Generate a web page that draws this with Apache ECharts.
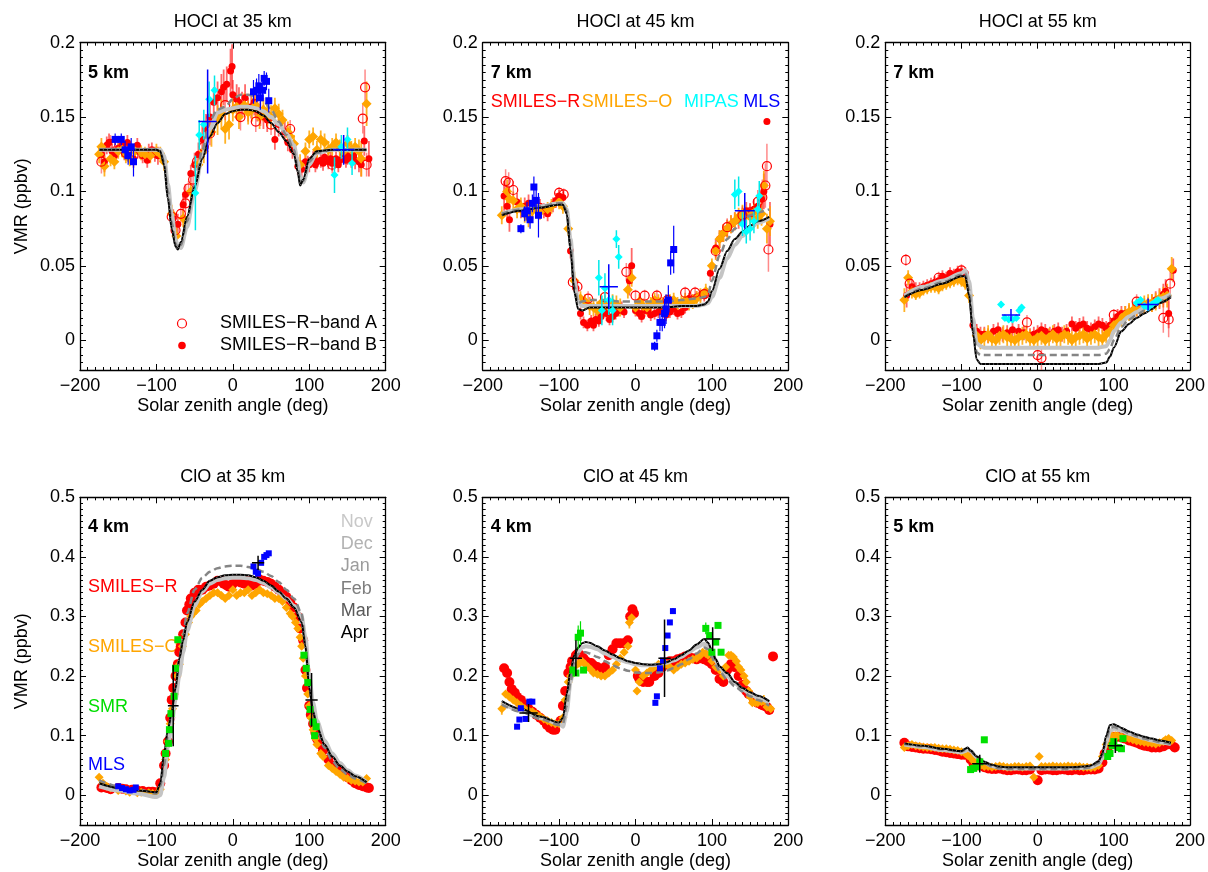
<!DOCTYPE html>
<html>
<head>
<meta charset="utf-8">
<title>HOCl / ClO diurnal variation</title>
<script src="https://cdn.jsdelivr.net/npm/echarts@6/dist/echarts.min.js"></script>
<style>
html, body { margin: 0; padding: 0; background: #fff; }
#main { width: 1208px; height: 872px; }
</style>
</head>
<body>
<div id="main"></div>
<script>
// ---------- HOCl 35 km ----------
var h35_sza = [-175,-150,-125,-100,-95,-90,-85,-80,-75,-72,-68,-60,-50,-40,-30,-20,-10,0,10,20,30,40,50,60,70,80,85,88,92,100,110,130,150,175];
var h35_nov = [0.128,0.128,0.128,0.128,0.128,0.124,0.105,0.085,0.068,0.063,0.062,0.076,0.100,0.124,0.142,0.153,0.155,0.156,0.157,0.157,0.156,0.154,0.150,0.145,0.139,0.131,0.120,0.110,0.106,0.118,0.126,0.128,0.128,0.128];
var h35_feb = [0.128,0.128,0.128,0.128,0.127,0.120,0.100,0.079,0.065,0.062,0.064,0.080,0.104,0.128,0.148,0.155,0.157,0.162,0.165,0.165,0.164,0.161,0.155,0.147,0.138,0.128,0.116,0.107,0.107,0.120,0.126,0.128,0.128,0.128];
var h35_apr = [0.128,0.128,0.128,0.128,0.127,0.118,0.095,0.075,0.063,0.061,0.066,0.083,0.103,0.122,0.137,0.146,0.152,0.154,0.155,0.155,0.154,0.151,0.146,0.140,0.134,0.125,0.113,0.104,0.108,0.122,0.127,0.128,0.128,0.128];
var h35_bandB = [[-172,0.125,0.008],[-168,0.120,0.007],[-165,0.131,0.006],[-162,0.133,0.006],[-158,0.127,0.005],[-155,0.124,0.006],[-150,0.129,0.006],[-145,0.131,0.005],[-142,0.126,0.005],[-138,0.133,0.005],[-135,0.128,0.006],[-130,0.122,0.006],[-125,0.131,0.005],[-122,0.127,0.005],[-118,0.124,0.005],[-112,0.121,0.005],[-110,0.126,0.006],[-106,0.128,0.005],[-102,0.125,0.005],[-98,0.124,0.006],[-78,0.082,0.006],[-72,0.078,0.007],[-65,0.091,0.006],[-62,0.098,0.007],[-55,0.112,0.006],[-50,0.118,0.008],[-45,0.125,0.008],[-40,0.135,0.009],[-35,0.142,0.010],[-30,0.150,0.010],[-25,0.160,0.010],[-20,0.163,0.011],[-15,0.167,0.012],[-12,0.170,0.012],[-8,0.172,0.012],[-3,0.181,0.015],[-1,0.184,0.015],[0,0.165,0.010],[5,0.162,0.010],[8,0.160,0.010],[12,0.158,0.009],[16,0.163,0.009],[20,0.155,0.008],[24,0.157,0.008],[28,0.160,0.009],[32,0.155,0.008],[36,0.152,0.008],[40,0.150,0.008],[45,0.148,0.008],[55,0.135,0.007],[60,0.145,0.008],[68,0.140,0.007],[72,0.133,0.006],[78,0.128,0.006],[85,0.117,0.006],[90,0.115,0.006],[95,0.120,0.005],[98,0.119,0.005],[100,0.118,0.005],[105,0.122,0.005],[108,0.118,0.005],[110,0.120,0.005],[115,0.121,0.005],[118,0.119,0.005],[120,0.123,0.005],[125,0.120,0.005],[128,0.122,0.005],[130,0.119,0.005],[135,0.122,0.005],[138,0.118,0.005],[140,0.121,0.005],[145,0.125,0.006],[148,0.121,0.005],[150,0.124,0.006],[155,0.122,0.006],[158,0.124,0.006],[160,0.121,0.006],[165,0.120,0.007],[168,0.118,0.008],[172,0.134,0.010],[178,0.122,0.012]];
var h35_bandA = [[-172,0.120,0.008],[-160,0.132,0.006],[-140,0.126,0.005],[-130,0.124,0.005],[-80,0.083,0.005],[-75,0.074,0.006],[-68,0.085,0.006],[-62,0.092,0.006],[-58,0.102,0.005],[-52,0.108,0.006],[-47,0.120,0.006],[-38,0.130,0.007],[-30,0.139,0.008],[-10,0.158,0.010],[10,0.150,0.009],[30,0.147,0.007],[50,0.145,0.007],[75,0.142,0.006],[130,0.118,0.006],[170,0.149,0.010],[173,0.170,0.012],[175,0.118,0.008]];
var h35_smo = [[-175,0.125,0.006],[-172,0.130,0.006],[-168,0.117,0.007],[-160,0.122,0.005],[-155,0.120,0.005],[-150,0.127,0.005],[-145,0.128,0.005],[-140,0.124,0.005],[-135,0.122,0.005],[-128,0.127,0.005],[-120,0.126,0.005],[-115,0.125,0.005],[-108,0.124,0.005],[-100,0.127,0.005],[-95,0.125,0.005],[-90,0.120,0.006],[-80,0.085,0.006],[-74,0.070,0.006],[-65,0.082,0.006],[-55,0.100,0.006],[-45,0.118,0.008],[-38,0.127,0.008],[-28,0.140,0.010],[-20,0.148,0.010],[-15,0.152,0.010],[-10,0.142,0.010],[-5,0.145,0.010],[0,0.155,0.008],[5,0.157,0.008],[8,0.150,0.008],[15,0.158,0.008],[20,0.153,0.008],[25,0.155,0.008],[30,0.158,0.008],[35,0.150,0.008],[40,0.155,0.008],[45,0.152,0.008],[50,0.150,0.008],[55,0.156,0.007],[60,0.152,0.007],[65,0.148,0.007],[72,0.140,0.007],[75,0.137,0.007],[80,0.132,0.006],[88,0.118,0.007],[95,0.127,0.006],[100,0.135,0.006],[105,0.137,0.006],[110,0.128,0.006],[115,0.135,0.006],[120,0.133,0.006],[125,0.128,0.006],[130,0.130,0.006],[135,0.133,0.006],[140,0.129,0.006],[145,0.127,0.006],[150,0.132,0.006],[155,0.128,0.006],[160,0.130,0.006],[165,0.127,0.008],[168,0.122,0.012],[175,0.159,0.015]];
var h35_mipas = [[-49,0.099,0.025],[-44,0.138,0.010],[-38,0.145,0.010],[-31,0.162,0.012],[-24,0.168,0.010],[133,0.111,0.012],[142,0.130,0.008],[150,0.135,0.008],[156,0.119,0.008]];
var h35_mls = [[-154,0.135,0.004],[-146,0.135,0.004],[-141,0.128,0.006],[-137,0.124,0.006],[-133,0.130,0.006],[-130,0.120,0.010],[27,0.167,0.008],[31,0.168,0.008],[34,0.171,0.008],[36,0.163,0.008],[39,0.168,0.006],[41,0.176,0.005],[44,0.174,0.006],[47,0.161,0.008]];
var h35_avg = [[-33,0.147,12,0.035],[145,0.128,14,0.010]];

// ---------- HOCl 45 km ----------
var h45_sza = [-175,-150,-125,-100,-95,-90,-85,-80,-75,-70,-60,-40,-20,0,20,40,60,80,90,95,100,110,120,130,140,150,160,175];
var h45_nov = [0.085,0.088,0.090,0.092,0.092,0.088,0.068,0.040,0.026,0.023,0.023,0.023,0.023,0.023,0.023,0.023,0.023,0.023,0.024,0.025,0.029,0.042,0.055,0.064,0.070,0.075,0.079,0.082];
var h45_feb = [0.085,0.088,0.090,0.092,0.092,0.087,0.064,0.036,0.025,0.026,0.027,0.027,0.026,0.026,0.026,0.026,0.027,0.028,0.029,0.031,0.040,0.057,0.068,0.075,0.080,0.084,0.086,0.088];
var h45_apr = [0.084,0.087,0.089,0.091,0.091,0.085,0.060,0.032,0.021,0.020,0.022,0.022,0.022,0.022,0.022,0.022,0.023,0.023,0.024,0.026,0.033,0.048,0.060,0.068,0.073,0.077,0.080,0.083];
var h45_bandB = [[-172,0.097,0.010],[-168,0.090,0.008],[-165,0.081,0.008],[-155,0.093,0.006],[-150,0.088,0.006],[-145,0.090,0.006],[-140,0.092,0.006],[-135,0.088,0.006],[-125,0.090,0.005],[-120,0.087,0.005],[-115,0.085,0.005],[-108,0.091,0.005],[-104,0.094,0.005],[-100,0.097,0.004],[-95,0.096,0.004],[-85,0.060,0.005],[-78,0.035,0.005],[-72,0.018,0.004],[-68,0.012,0.004],[-63,0.010,0.004],[-58,0.013,0.004],[-55,0.010,0.004],[-52,0.014,0.004],[-48,0.013,0.004],[-45,0.016,0.005],[-42,0.020,0.004],[-38,0.018,0.005],[-34,0.014,0.004],[-30,0.016,0.004],[-26,0.018,0.004],[-22,0.020,0.004],[-18,0.022,0.004],[-15,0.019,0.004],[-8,0.040,0.010],[-5,0.050,0.012],[0,0.020,0.004],[5,0.018,0.004],[8,0.016,0.004],[12,0.020,0.004],[16,0.020,0.004],[20,0.017,0.004],[25,0.018,0.004],[30,0.019,0.004],[35,0.020,0.004],[40,0.017,0.004],[45,0.019,0.004],[50,0.021,0.004],[55,0.018,0.004],[60,0.019,0.004],[65,0.022,0.004],[70,0.028,0.004],[75,0.027,0.004],[80,0.029,0.004],[85,0.030,0.004],[90,0.030,0.004],[98,0.045,0.005],[105,0.062,0.006],[110,0.068,0.006],[115,0.072,0.006],[120,0.075,0.006],[125,0.078,0.006],[130,0.080,0.006],[135,0.081,0.006],[140,0.083,0.006],[145,0.087,0.006],[150,0.086,0.006],[155,0.088,0.007],[160,0.090,0.008],[165,0.095,0.010],[168,0.100,0.012],[172,0.147,0],[176,0.078,0.015]];
var h45_bandA = [[-170,0.107,0.008],[-166,0.106,0.007],[-160,0.101,0.006],[-100,0.099,0.004],[-94,0.098,0.004],[-82,0.039,0.005],[-76,0.036,0.005],[-62,0.028,0.005],[-40,0.029,0.004],[-12,0.046,0.006],[0,0.030,0.004],[12,0.030,0.004],[28,0.030,0.004],[42,0.027,0.004],[65,0.032,0.004],[78,0.032,0.004],[90,0.031,0.004],[105,0.060,0.005],[120,0.076,0.006],[140,0.084,0.006],[150,0.086,0.006],[160,0.093,0.008],[166,0.096,0.012],[170,0.104,0.015],[172,0.117,0.015],[174,0.061,0.015]];
var h45_smo = [[-175,0.084,0.006],[-168,0.100,0.008],[-165,0.095,0.007],[-160,0.094,0.006],[-155,0.088,0.006],[-150,0.090,0.006],[-145,0.085,0.006],[-140,0.082,0.006],[-135,0.087,0.006],[-130,0.090,0.005],[-125,0.086,0.005],[-115,0.088,0.005],[-110,0.090,0.005],[-100,0.093,0.005],[-95,0.090,0.005],[-88,0.075,0.005],[-80,0.040,0.006],[-72,0.028,0.005],[-66,0.026,0.005],[-60,0.023,0.006],[-55,0.022,0.006],[-50,0.020,0.006],[-45,0.025,0.006],[-40,0.024,0.006],[-35,0.023,0.006],[-30,0.025,0.006],[-25,0.024,0.006],[-20,0.022,0.006],[-10,0.034,0.006],[-5,0.042,0.006],[0,0.022,0.005],[5,0.026,0.005],[10,0.023,0.005],[15,0.022,0.005],[20,0.024,0.005],[25,0.027,0.005],[30,0.026,0.005],[35,0.024,0.005],[40,0.025,0.005],[45,0.026,0.005],[50,0.027,0.005],[55,0.024,0.005],[60,0.025,0.005],[65,0.027,0.005],[70,0.025,0.005],[75,0.026,0.005],[80,0.028,0.005],[85,0.030,0.005],[92,0.033,0.005],[100,0.050,0.005],[105,0.060,0.006],[110,0.068,0.006],[115,0.072,0.006],[120,0.075,0.006],[125,0.078,0.006],[130,0.080,0.006],[135,0.083,0.006],[140,0.085,0.006],[145,0.084,0.006],[150,0.083,0.006],[155,0.086,0.006],[160,0.082,0.007],[165,0.085,0.008],[168,0.104,0.010],[172,0.075,0.010],[176,0.080,0.010]];
var h45_mipas = [[-48,0.042,0.012],[-44,0.020,0.010],[-40,0.035,0.010],[-35,0.027,0.010],[-30,0.020,0.010],[-25,0.068,0.006],[-22,0.056,0.008],[130,0.098,0.010],[135,0.100,0.010],[140,0.078,0.008],[145,0.073,0.008],[150,0.075,0.008],[155,0.080,0.008],[160,0.088,0.008],[162,0.097,0.010]];
var h45_mls = [[-150,0.075,0.003],[-145,0.085,0.005],[-142,0.087,0.006],[-138,0.081,0.006],[-135,0.092,0.006],[-133,0.103,0.007],[-130,0.094,0.008],[-127,0.084,0.015],[25,-0.004,0.003],[28,0.003,0.004],[32,0.012,0.006],[35,0.012,0.006],[38,0.018,0.010],[40,0.021,0.010],[43,0.027,0.010],[46,0.052,0.008],[50,0.061,0.016]];
var h45_avg = [[-35,0.036,12,0.015],[143,0.087,13,0.012]];

// ---------- HOCl 55 km ----------
var h55_sza = [-175,-150,-125,-100,-95,-90,-85,-80,-75,-70,-40,0,40,80,90,95,100,110,120,130,140,150,160,175];
var h55_nov = [0.030,0.036,0.040,0.045,0.047,0.040,0.015,-0.002,-0.004,-0.005,-0.005,-0.005,-0.005,-0.005,-0.004,0.000,0.006,0.012,0.016,0.019,0.022,0.025,0.028,0.031];
var h55_feb = [0.029,0.035,0.039,0.044,0.045,0.034,0.009,-0.008,-0.010,-0.010,-0.010,-0.010,-0.010,-0.010,-0.009,-0.006,0.000,0.009,0.014,0.017,0.020,0.023,0.026,0.030];
var h55_apr = [0.029,0.034,0.038,0.043,0.043,0.030,0.005,-0.013,-0.016,-0.016,-0.016,-0.016,-0.016,-0.016,-0.015,-0.011,-0.005,0.006,0.011,0.015,0.018,0.021,0.025,0.029];
var h55_bandB = [[-172,0.030,0.008],[-165,0.036,0.005],[-160,0.034,0.005],[-155,0.035,0.004],[-150,0.036,0.004],[-145,0.037,0.004],[-140,0.038,0.004],[-135,0.039,0.004],[-130,0.040,0.004],[-125,0.043,0.004],[-120,0.042,0.004],[-115,0.045,0.004],[-110,0.044,0.004],[-105,0.046,0.004],[-100,0.046,0.004],[-95,0.045,0.004],[-85,0.010,0.005],[-80,0.006,0.005],[-75,0.004,0.005],[-70,0.004,0.005],[-65,0.003,0.005],[-58,0.006,0.005],[-52,0.007,0.005],[-46,0.004,0.005],[-40,0.005,0.005],[-33,0.007,0.005],[-25,0.006,0.005],[-18,0.005,0.005],[-10,0.003,0.005],[-5,0.004,0.005],[0,0.005,0.005],[5,0.007,0.005],[10,0.006,0.005],[16,0.004,0.005],[22,0.006,0.005],[27,0.007,0.005],[32,0.004,0.005],[38,0.006,0.005],[45,0.011,0.005],[50,0.008,0.005],[55,0.010,0.005],[60,0.011,0.005],[65,0.008,0.005],[70,0.007,0.005],[75,0.009,0.005],[80,0.011,0.005],[85,0.010,0.005],[90,0.008,0.005],[95,0.010,0.005],[100,0.013,0.005],[105,0.016,0.005],[110,0.018,0.005],[115,0.018,0.005],[120,0.019,0.005],[125,0.020,0.005],[130,0.021,0.005],[135,0.022,0.005],[140,0.023,0.005],[145,0.024,0.005],[150,0.025,0.006],[155,0.027,0.006],[160,0.028,0.007],[165,0.031,0.007],[168,0.033,0.008],[172,0.018,0.010],[178,0.047,0.008]];
var h55_bandA = [[-173,0.054,0.004],[-168,0.038,0.005],[-130,0.042,0.004],[-100,0.047,0.004],[-14,0.012,0.005],[0,-0.010,0.004],[5,-0.012,0.008],[100,0.017,0.004],[130,0.026,0.005],[165,0.015,0.010],[172,0.014,0.012],[174,0.038,0.010]];
var h55_smo = [[-175,0.027,0.008],[-170,0.042,0.005],[-165,0.033,0.005],[-160,0.031,0.004],[-155,0.032,0.004],[-150,0.034,0.004],[-145,0.035,0.004],[-140,0.036,0.004],[-135,0.036,0.004],[-130,0.035,0.004],[-125,0.037,0.004],[-120,0.038,0.004],[-115,0.039,0.004],[-110,0.040,0.004],[-105,0.041,0.004],[-100,0.040,0.004],[-95,0.038,0.004],[-90,0.030,0.005],[-80,0.003,0.006],[-75,0.000,0.006],[-70,0.002,0.006],[-65,0.004,0.006],[-60,0.001,0.006],[-55,0.000,0.006],[-50,0.003,0.006],[-45,0.004,0.006],[-40,0.002,0.006],[-35,0.001,0.006],[-30,0.000,0.006],[-25,0.002,0.006],[-20,0.003,0.006],[-15,0.004,0.006],[-10,0.001,0.006],[-5,0.000,0.006],[0,0.002,0.006],[5,0.003,0.006],[10,0.000,0.006],[15,0.002,0.006],[20,0.004,0.006],[25,0.001,0.006],[30,0.002,0.006],[35,0.004,0.006],[40,0.003,0.006],[45,0.000,0.006],[50,0.002,0.006],[55,0.003,0.006],[60,0.004,0.006],[65,0.001,0.006],[70,0.003,0.006],[75,0.004,0.006],[80,0.002,0.006],[85,0.001,0.006],[90,0.004,0.006],[95,0.006,0.006],[100,0.010,0.006],[105,0.012,0.006],[110,0.015,0.006],[115,0.017,0.006],[120,0.019,0.006],[125,0.020,0.006],[130,0.022,0.006],[135,0.023,0.006],[140,0.024,0.006],[145,0.025,0.006],[150,0.025,0.006],[155,0.026,0.006],[160,0.028,0.006],[165,0.029,0.007],[170,0.030,0.008],[176,0.048,0.008]];
var h55_mipas = [[-48,0.024,0.002],[-43,0.015,0.002],[-38,0.014,0.002],[-33,0.014,0.002],[-28,0.015,0.002],[-24,0.020,0.002],[-21,0.022,0.002],[130,0.025,0.002],[135,0.027,0.002],[140,0.023,0.002],[145,0.022,0.002],[150,0.024,0.002],[155,0.026,0.002],[158,0.027,0.002]];
var h55_mls = [];
var h55_avg = [[-35,0.017,12,0.004],[145,0.024,14,0.004]];

// ---------- ClO 35 km ----------
var c35_sza = [-175,-150,-125,-100,-95,-90,-85,-80,-75,-70,-65,-60,-50,-40,-30,-20,-10,0,10,20,30,40,50,60,70,80,90,95,100,105,110,120,130,140,150,160,175];
var c35_nov = [0.015,0.008,0.003,-0.003,0.000,0.030,0.080,0.120,0.160,0.200,0.240,0.275,0.318,0.342,0.355,0.361,0.364,0.365,0.365,0.364,0.361,0.356,0.349,0.340,0.330,0.318,0.300,0.265,0.200,0.155,0.125,0.092,0.070,0.054,0.042,0.033,0.022];
var c35_feb = [0.025,0.015,0.010,0.003,0.015,0.050,0.100,0.140,0.180,0.230,0.270,0.305,0.345,0.365,0.375,0.381,0.384,0.385,0.385,0.383,0.380,0.375,0.368,0.358,0.345,0.330,0.305,0.250,0.180,0.140,0.110,0.080,0.058,0.044,0.035,0.028,0.020];
var c35_apr = [0.020,0.012,0.008,0.005,0.020,0.070,0.110,0.140,0.180,0.230,0.260,0.290,0.325,0.345,0.360,0.366,0.369,0.370,0.370,0.369,0.366,0.360,0.352,0.342,0.330,0.315,0.290,0.250,0.180,0.140,0.115,0.085,0.065,0.050,0.040,0.032,0.022];
var c35_smilesR = [[-172,0.013],[-165,0.012],[-160,0.010],[-150,0.012],[-145,0.011],[-140,0.010],[-132,0.009],[-125,0.008],[-118,0.007],[-110,0.006],[-105,0.006],[-100,0.005],[-95,0.020],[-90,0.050],[-88,0.070],[-85,0.090],[-82,0.130],[-80,0.160],[-78,0.180],[-75,0.200],[-72,0.220],[-70,0.240],[-68,0.250],[-65,0.270],[-62,0.290],[-60,0.310],[-57,0.320],[-55,0.330],[-50,0.340],[-45,0.345],[-40,0.345],[-35,0.350],[-30,0.352],[-25,0.355],[-20,0.360],[-15,0.360],[-12,0.355],[-8,0.352],[-5,0.350],[0,0.355],[5,0.360],[10,0.357],[15,0.355],[20,0.360],[25,0.352],[30,0.355],[35,0.362],[40,0.360],[45,0.358],[50,0.355],[55,0.350],[60,0.345],[65,0.340],[70,0.333],[75,0.325],[80,0.315],[85,0.300],[88,0.280],[92,0.260],[95,0.210],[97,0.180],[100,0.150],[102,0.135],[105,0.120],[108,0.105],[110,0.095],[114,0.085],[118,0.075],[125,0.060],[130,0.050],[135,0.045],[140,0.040],[145,0.035],[150,0.030],[155,0.025],[160,0.020],[165,0.017],[170,0.015],[175,0.013],[178,0.012]];
var c35_smo = [[-175,0.030],[-170,0.020],[-165,0.015],[-160,0.012],[-150,0.008],[-140,0.007],[-135,0.005],[-125,0.004],[-120,0.005],[-110,0.004],[-105,0.003],[-100,0.002],[-95,0.010],[-88,0.060],[-85,0.090],[-82,0.120],[-79,0.145],[-76,0.170],[-73,0.200],[-70,0.220],[-66,0.250],[-62,0.270],[-58,0.290],[-55,0.300],[-52,0.305],[-48,0.310],[-44,0.320],[-40,0.325],[-35,0.330],[-30,0.335],[-25,0.340],[-20,0.340],[-15,0.335],[-10,0.330],[-5,0.335],[0,0.345],[5,0.335],[10,0.340],[15,0.340],[20,0.345],[25,0.335],[30,0.340],[35,0.345],[40,0.340],[45,0.338],[50,0.335],[55,0.330],[60,0.330],[65,0.325],[70,0.315],[75,0.305],[78,0.300],[82,0.290],[85,0.280],[88,0.265],[90,0.250],[92,0.230],[95,0.200],[98,0.170],[100,0.150],[102,0.130],[105,0.110],[108,0.095],[110,0.085],[115,0.070],[118,0.065],[125,0.050],[130,0.045],[135,0.040],[140,0.035],[145,0.030],[150,0.028],[155,0.025],[160,0.024],[165,0.022],[170,0.022],[175,0.028]];
var c35_smr = [[-88,0.070],[-84,0.087],[-83,0.110],[-81,0.137],[-77,0.166],[-75,0.213],[-72,0.261],[93,0.235],[96,0.213],[98,0.189],[101,0.144],[105,0.123],[109,0.115],[107,0.100]];
var c35_mls = [[-150,0.015],[-145,0.012],[-140,0.010],[-135,0.008],[-130,0.009],[-127,0.013],[27,0.384],[30,0.375],[33,0.372],[37,0.390],[41,0.400],[44,0.403],[47,0.406]];
var c35_avg = [[-78,0.150,7,0.068],[103,0.160,8,0.045],[33,0.390,8,0.012]];

// ---------- ClO 45 km ----------
var c45_sza = c35_sza;
var c45_nov = [0.155,0.142,0.130,0.120,0.115,0.140,0.190,0.225,0.240,0.248,0.250,0.249,0.245,0.238,0.232,0.227,0.223,0.220,0.218,0.218,0.219,0.222,0.226,0.232,0.240,0.248,0.254,0.250,0.240,0.226,0.214,0.200,0.188,0.178,0.170,0.163,0.155];
var c45_feb = [0.152,0.140,0.128,0.118,0.120,0.150,0.190,0.225,0.237,0.240,0.240,0.238,0.232,0.225,0.218,0.213,0.209,0.206,0.205,0.205,0.206,0.209,0.213,0.220,0.228,0.238,0.248,0.245,0.232,0.218,0.208,0.194,0.183,0.174,0.166,0.160,0.150];
var c45_apr = [0.158,0.145,0.132,0.122,0.130,0.170,0.210,0.235,0.248,0.255,0.257,0.256,0.250,0.243,0.236,0.230,0.225,0.222,0.220,0.219,0.220,0.223,0.228,0.235,0.243,0.253,0.262,0.256,0.243,0.228,0.216,0.205,0.190,0.180,0.173,0.167,0.158];
var c45_smilesR = [[-172,0.213],[-168,0.205],[-165,0.190],[-162,0.178],[-158,0.172],[-155,0.165],[-150,0.160],[-145,0.152],[-140,0.145],[-135,0.140],[-130,0.135],[-125,0.130],[-120,0.125],[-116,0.118],[-112,0.113],[-108,0.110],[-105,0.110],[-98,0.125],[-95,0.150],[-92,0.175],[-88,0.205],[-85,0.215],[-83,0.225],[-78,0.235],[-75,0.238],[-72,0.235],[-68,0.230],[-65,0.225],[-62,0.222],[-58,0.222],[-55,0.218],[-50,0.215],[-45,0.210],[-40,0.215],[-35,0.235],[-30,0.245],[-25,0.255],[-20,0.255],[-15,0.255],[-10,0.260],[-7,0.300],[-4,0.312],[-2,0.305],[3,0.200],[5,0.195],[10,0.190],[15,0.190],[18,0.190],[25,0.200],[30,0.205],[35,0.215],[40,0.220],[45,0.225],[50,0.225],[55,0.228],[60,0.230],[65,0.233],[70,0.232],[75,0.230],[80,0.228],[85,0.230],[90,0.228],[95,0.225],[100,0.220],[105,0.210],[110,0.195],[115,0.190],[120,0.210],[125,0.220],[130,0.215],[135,0.200],[140,0.185],[145,0.175],[148,0.170],[155,0.160],[160,0.155],[165,0.152],[168,0.150],[172,0.148],[175,0.143],[180,0.233]];
var c45_smo = [[-175,0.145,0.010],[-170,0.170],[-165,0.165],[-160,0.160],[-155,0.155],[-150,0.150],[-145,0.145],[-140,0.142],[-135,0.140],[-130,0.136],[-125,0.132],[-120,0.128],[-115,0.125],[-110,0.122],[-105,0.120],[-100,0.120],[-95,0.130],[-92,0.160],[-88,0.190],[-85,0.200],[-82,0.215],[-79,0.218],[-76,0.220],[-73,0.222],[-70,0.225],[-66,0.220],[-62,0.215],[-58,0.210],[-55,0.205],[-50,0.203],[-45,0.200],[-40,0.200],[-35,0.205],[-30,0.210],[-25,0.220],[-20,0.230],[-15,0.240],[-10,0.250],[-8,0.290,0.010],[-5,0.298,0.010],[0,0.210],[2,0.175],[5,0.190],[10,0.200],[15,0.205],[20,0.210],[25,0.215],[30,0.220],[35,0.220],[40,0.220],[45,0.215],[50,0.210],[55,0.215],[60,0.220],[65,0.222],[70,0.225],[75,0.228],[80,0.230],[85,0.235],[88,0.240],[92,0.238],[95,0.235],[100,0.225],[105,0.215],[110,0.210],[115,0.200],[118,0.215],[122,0.235],[125,0.235],[128,0.232],[132,0.225],[135,0.215],[138,0.210],[142,0.200],[145,0.190],[148,0.175],[150,0.165],[153,0.155],[157,0.155],[160,0.155],[165,0.157],[168,0.158,0.010],[172,0.148],[177,0.145]];
var c45_smr = [[-82,0.210],[-78,0.205],[-75,0.265,0.020],[-72,0.272,0.020],[-68,0.210],[92,0.280,0.010],[97,0.268],[100,0.240],[105,0.257],[108,0.285],[112,0.240]];
var c45_mls = [[-155,0.115],[-152,0.127],[-150,0.146],[-144,0.128],[-139,0.157],[-135,0.157],[26,0.155],[28,0.166],[32,0.213],[36,0.226],[39,0.247],[42,0.268],[45,0.290],[49,0.309,0.005]];
var c45_avg = [[-140,0.138,12,0.015],[-78,0.230,8,0.030],[38,0.230,8,0.065],[101,0.262,10,0.020]];

// ---------- ClO 55 km ----------
var c55_sza = [-175,-150,-125,-100,-95,-92,-88,-80,-70,-60,-50,-40,-20,0,20,40,60,70,80,85,90,95,100,105,110,120,130,140,150,160,175];
var c55_nov = [0.085,0.081,0.076,0.072,0.074,0.077,0.074,0.064,0.055,0.049,0.046,0.045,0.045,0.045,0.045,0.045,0.046,0.047,0.052,0.062,0.088,0.108,0.112,0.110,0.108,0.103,0.099,0.095,0.092,0.089,0.086];
var c55_feb = [0.086,0.082,0.077,0.073,0.076,0.078,0.074,0.064,0.054,0.048,0.045,0.044,0.044,0.044,0.044,0.044,0.045,0.047,0.054,0.066,0.094,0.112,0.115,0.112,0.109,0.104,0.099,0.095,0.092,0.089,0.086];
var c55_apr = [0.087,0.083,0.078,0.074,0.078,0.080,0.075,0.065,0.056,0.051,0.048,0.047,0.047,0.047,0.047,0.047,0.048,0.050,0.057,0.070,0.100,0.118,0.119,0.116,0.113,0.107,0.102,0.098,0.095,0.092,0.088];
var c55_smilesR = [[-175,0.088],[-170,0.082],[-165,0.081],[-160,0.080],[-155,0.079],[-150,0.078],[-145,0.078],[-140,0.077],[-135,0.076],[-130,0.075],[-125,0.073],[-120,0.072],[-115,0.071],[-110,0.070],[-105,0.069],[-100,0.068],[-96,0.068],[-92,0.068],[-88,0.060],[-84,0.052],[-78,0.050],[-70,0.047],[-65,0.045],[-60,0.044],[-55,0.044],[-50,0.045],[-45,0.043],[-40,0.042],[-35,0.042],[-30,0.043],[-25,0.043],[-20,0.042],[-15,0.042],[-10,0.043],[0,0.025],[5,0.042],[10,0.043],[15,0.043],[20,0.042],[25,0.042],[30,0.043],[35,0.043],[40,0.042],[45,0.042],[50,0.043],[55,0.042],[60,0.042],[65,0.043],[70,0.043],[75,0.043],[80,0.045],[85,0.055],[88,0.070],[92,0.080],[95,0.090],[100,0.098],[105,0.098],[110,0.097],[115,0.095],[120,0.092],[125,0.090],[130,0.088],[135,0.085],[140,0.083],[145,0.082],[150,0.080],[155,0.080],[160,0.080],[165,0.082],[170,0.085],[175,0.085],[180,0.080]];
var c55_smo = [[-175,0.080],[-170,0.083],[-165,0.085],[-160,0.083],[-155,0.082],[-150,0.081],[-145,0.080],[-140,0.080],[-135,0.080],[-130,0.079],[-125,0.078],[-120,0.078],[-115,0.077],[-110,0.076],[-105,0.075],[-100,0.073],[-95,0.070],[-92,0.067],[-88,0.063],[-84,0.057],[-80,0.052],[-75,0.050],[-70,0.048],[-65,0.048],[-60,0.047],[-55,0.048],[-50,0.049],[-45,0.048],[-40,0.047],[-35,0.047],[-30,0.048],[-25,0.048],[-20,0.047],[-15,0.048],[-10,0.049],[-5,0.030],[2,0.065],[5,0.048],[10,0.048],[15,0.048],[20,0.049],[25,0.048],[30,0.048],[35,0.048],[40,0.049],[45,0.048],[50,0.048],[55,0.048],[60,0.047],[65,0.047],[70,0.046],[75,0.047],[80,0.050],[85,0.065],[90,0.085],[94,0.095],[98,0.100],[102,0.100],[105,0.100],[110,0.098],[115,0.096],[120,0.095],[125,0.093],[130,0.091],[135,0.090],[140,0.089],[145,0.088],[150,0.087],[155,0.086],[160,0.088],[165,0.090],[168,0.093],[172,0.095],[176,0.092]];
var c55_smr = [[-88,0.043],[-84,0.045],[-80,0.048],[-76,0.056],[-70,0.093],[92,0.065],[95,0.070],[98,0.083],[100,0.090],[106,0.080],[110,0.078],[112,0.095]];
var c55_mls = [];
var c55_avg = [[-76,0.053,10,0.015],[102,0.083,10,0.012]];

// ---------- tick labels ----------
var xTicks = [-200, -100, 0, 100, 200];
var hoclTicks = [0, 0.05, 0.1, 0.15, 0.2];
var cloTicks = [0, 0.1, 0.2, 0.3, 0.4, 0.5];
var months = ['Nov', 'Dec', 'Jan', 'Feb', 'Mar', 'Apr'];

var FONT = 'Liberation Sans';
var lefts = [80, 482.7, 885.3];
var widths = [305.7, 305.6, 305];
var tops = [42.7, 497.3];
var heights = [327.3, 327.7];

var panels = [
	{title: 'HOCl at 35 km', tag: '5 km', row: 0, col: 0, sza: h35_sza, nov: h35_nov, feb: h35_feb, apr: h35_apr, ra: h35_bandA, rb: h35_bandB, o: h35_smo, mipas: h35_mipas, mls: h35_mls, smr: [], avg: h35_avg},
	{title: 'HOCl at 45 km', tag: '7 km', row: 0, col: 1, sza: h45_sza, nov: h45_nov, feb: h45_feb, apr: h45_apr, ra: h45_bandA, rb: h45_bandB, o: h45_smo, mipas: h45_mipas, mls: h45_mls, smr: [], avg: h45_avg},
	{title: 'HOCl at 55 km', tag: '7 km', row: 0, col: 2, sza: h55_sza, nov: h55_nov, feb: h55_feb, apr: h55_apr, ra: h55_bandA, rb: h55_bandB, o: h55_smo, mipas: h55_mipas, mls: h55_mls, smr: [], avg: h55_avg},
	{title: 'ClO at 35 km', tag: '4 km', row: 1, col: 0, sza: c35_sza, nov: c35_nov, feb: c35_feb, apr: c35_apr, ra: [], rb: c35_smilesR, o: c35_smo, mipas: [], mls: c35_mls, smr: c35_smr, avg: c35_avg},
	{title: 'ClO at 45 km', tag: '4 km', row: 1, col: 1, sza: c45_sza, nov: c45_nov, feb: c45_feb, apr: c45_apr, ra: [], rb: c45_smilesR, o: c45_smo, mipas: [], mls: c45_mls, smr: c45_smr, avg: c45_avg},
	{title: 'ClO at 55 km', tag: '5 km', row: 1, col: 2, sza: c55_sza, nov: c55_nov, feb: c55_feb, apr: c55_apr, ra: [], rb: c55_smilesR, o: c55_smo, mipas: [], mls: c55_mls, smr: c55_smr, avg: c55_avg}
];

function zip(xs, ys) {
	return xs.map(function (x, k) { return [x, ys[k]]; });
}
function minus(v) {
	return String(v).replace('-', '\u2212');
}

var grids = [], xAxes = [], yAxes = [], series = [], texts = [];

function errRender(color, w) {
	return function (params, api) {
		var e = api.value(2);
		if (!(e > 0)) return null;
		var x = api.value(0), y = api.value(1);
		var a = api.coord([x, y - e]), b = api.coord([x, y + e]);
		return {type: 'line', shape: {x1: a[0], y1: a[1], x2: b[0], y2: b[1]}, style: {stroke: color, lineWidth: w}};
	};
}
function crossRender(color) {
	return function (params, api) {
		var x = api.value(0), y = api.value(1), dx = api.value(2), dy = api.value(3);
		var l = api.coord([x - dx, y]), r = api.coord([x + dx, y]);
		var t = api.coord([x, y + dy]), b = api.coord([x, y - dy]);
		return {type: 'group', children: [
			{type: 'line', shape: {x1: l[0], y1: l[1], x2: r[0], y2: r[1]}, style: {stroke: color, lineWidth: 1.5}},
			{type: 'line', shape: {x1: t[0], y1: t[1], x2: b[0], y2: b[1]}, style: {stroke: color, lineWidth: 1.5}}
		]};
	};
}

panels.forEach(function (p, i) {
	var hocl = p.row === 0;
	var ymin = hocl ? -0.02 : -0.05, ymax = hocl ? 0.2 : 0.5;
	var majors = hocl ? hoclTicks : cloTicks;
	var minorStep = hocl ? 0.005 : 0.01;
	grids.push({left: lefts[p.col], top: tops[p.row], width: widths[p.col], height: heights[p.row]});

	var axLine = {show: true, onZero: false, lineStyle: {color: '#000', width: 1.3}};
	var xBase = {
		gridIndex: i, type: 'value', min: xTicks[0], max: xTicks[4], interval: 100,
		splitLine: {show: false}, axisLine: axLine,
		axisTick: {show: true, inside: true, length: 6, lineStyle: {color: '#000'}},
		minorTick: {show: true, splitNumber: 10, length: 3, lineStyle: {color: '#000'}}
	};
	xAxes.push(Object.assign({}, xBase, {
		position: 'bottom',
		axisLabel: {show: true, margin: 7, color: '#000', fontSize: 18, fontFamily: FONT, formatter: minus},
		name: 'Solar zenith angle (deg)', nameLocation: 'middle', nameGap: 27,
		nameTextStyle: {color: '#000', fontSize: 18, fontFamily: FONT}
	}));
	xAxes.push(Object.assign({}, xBase, {position: 'top', axisLabel: {show: false}}));

	var yMain = {
		gridIndex: i, type: 'value', min: ymin, max: ymax, position: 'left',
		splitLine: {show: false}, axisLine: axLine,
		axisTick: {show: true, inside: true, length: 6, customValues: majors, lineStyle: {color: '#000'}},
		axisLabel: {show: true, margin: 5, customValues: majors, color: '#000', fontSize: 18, fontFamily: FONT}
	};
	if (p.col === 0) {
		yMain.name = 'VMR (ppbv)';
		yMain.nameLocation = 'middle';
		yMain.nameGap = 49;
		yMain.nameTextStyle = {color: '#000', fontSize: 18, fontFamily: FONT};
	}
	yAxes.push(yMain);
	yAxes.push({
		gridIndex: i, type: 'value', min: ymin, max: ymax, position: 'right',
		splitLine: {show: false}, axisLine: axLine, axisLabel: {show: false},
		axisTick: {show: true, inside: true, length: 6, customValues: majors, lineStyle: {color: '#000'}}
	});
	['left', 'right'].forEach(function (side) {
		yAxes.push({
			gridIndex: i, type: 'value', min: ymin, max: ymax, interval: minorStep, position: side,
			splitLine: {show: false}, axisLine: {show: false, onZero: false}, axisLabel: {show: false},
			axisTick: {show: true, inside: true, length: 3, lineStyle: {color: '#000'}}
		});
	});

	var ax = {xAxisIndex: 2 * i, yAxisIndex: 4 * i, silent: true};
	function err(data, color, w, z) {
		return Object.assign({type: 'custom', data: data, dimensions: ['x', 'y', 'e'], encode: {x: 0, y: 1},
			clip: true, z: z, renderItem: errRender(color, w)}, ax);
	}
	function scat(data, sym, size, color, hollow, z) {
		return Object.assign({type: 'scatter', data: data, symbol: sym, symbolSize: size, z: z, clip: true,
			itemStyle: hollow ? {color: 'rgba(0,0,0,0)', borderColor: color, borderWidth: 1.2, opacity: 1} : {color: color, opacity: 1}}, ax);
	}
	function line(ys, color, w, type, z) {
		return Object.assign({type: 'line', data: zip(p.sza, ys), symbol: 'none', smooth: 0.3, smoothMonotone: 'x', z: z,
			lineStyle: {color: color, width: w, type: type}}, ax);
	}

	var big = hocl ? 7 : 10;
	series.push(err(p.rb, 'rgba(255,40,40,0.7)', 1.8, 1));
	series.push(err(p.o, 'rgba(255,165,0,0.85)', 1.8, 1));
	series.push(err(p.ra, 'rgba(255,60,60,0.6)', 1.5, 1));
	series.push(scat(p.rb, 'circle', big, '#ff0000', false, 2));
	series.push(scat(p.o, 'diamond', hocl ? 10 : 9, '#ffa500', false, 2));
	series.push(scat(p.ra, 'circle', 9, '#ff0000', true, 2));
	series.push(line(p.nov, '#c4c4c4', 4, 'solid', 3));
	series.push(line(p.feb, '#858585', 2.5, [7, 4], 3));
	series.push(line(p.apr, '#000000', 2, 'solid', 3));
	series.push(line(p.apr, '#9a9a9a', 1, [1, 3], 3));
	series.push(err(p.mipas, '#00e8e8', 1.5, 4));
	series.push(scat(p.mipas, 'diamond', 8, '#00ffff', false, 4));
	series.push(err(p.mls, '#0000ff', 1.2, 4));
	series.push(scat(p.mls, 'rect', hocl ? 7 : 6, '#0000ff', false, 4));
	series.push(err(p.smr, '#00dd00', 1.2, 4));
	series.push(scat(p.smr, 'rect', 7, '#00e000', false, 4));
	series.push(Object.assign({type: 'custom', data: p.avg, dimensions: ['x', 'y', 'xe', 'ye'], encode: {x: 0, y: 1},
		clip: true, z: 5, renderItem: crossRender(hocl ? '#0000ff' : '#000000')}, ax));

	var cx = lefts[p.col] + widths[p.col] / 2;
	texts.push({type: 'text', style: {text: p.title, x: cx, y: hocl ? 22 : 477, fill: '#000',
		font: '18px "' + FONT + '"', align: 'center', verticalAlign: 'middle', textAlign: 'center', textVerticalAlign: 'middle'}});
	texts.push({type: 'text', style: {text: p.tag, x: lefts[p.col] + 8, y: tops[p.row] + 30, fill: '#000',
		font: 'bold 18px "' + FONT + '"', align: 'left', verticalAlign: 'middle', textAlign: 'left', textVerticalAlign: 'middle'}});
});

function label(text, x, y, color) {
	texts.push({type: 'text', style: {text: text, x: x, y: y, fill: color, font: '18px "' + FONT + '"',
		align: 'left', verticalAlign: 'middle', textAlign: 'left', textVerticalAlign: 'middle'}});
}

// legend of panel 1
texts.push({type: 'circle', shape: {cx: 182, cy: 323.5, r: 4.5}, style: {fill: 'none', stroke: '#ff0000', lineWidth: 1.2}});
texts.push({type: 'circle', shape: {cx: 182, cy: 345.5, r: 3.8}, style: {fill: '#ff0000'}});
label('SMILES\u2212R\u2212band A', 220, 323.5, '#000');
label('SMILES\u2212R\u2212band B', 220, 345.5, '#000');

// instrument names, panel 2
label('SMILES\u2212R', 490.7, 101.7, '#ff0000');
label('SMILES\u2212O', 581.7, 101.7, '#ffa500');
label('MIPAS', 684, 101.7, '#00ffff');
label('MLS', 743.3, 101.7, '#0000ff');

// instrument names and months, panel 4
label('SMILES\u2212R', 88, 587, '#ff0000');
label('SMILES\u2212O', 88, 647, '#ffa500');
label('SMR', 88, 707, '#00dd00');
label('MLS', 88, 765, '#0000ff');
var monthColors = ['#c8c8c8', '#b2b2b2', '#9c9c9c', '#7e7e7e', '#5a5a5a', '#000000'];
months.forEach(function (m, k) {
	label(m, 340.7, 521.7 + k * 22.3, monthColors[k]);
});

var myChart = echarts.init(document.getElementById('main'));
var option = {
	animation: false,
	backgroundColor: '#fff',
	textStyle: {fontFamily: FONT},
	grid: grids,
	xAxis: xAxes,
	yAxis: yAxes,
	series: series,
	graphic: {elements: texts}
};
myChart.setOption(option);
window.onresize = function () {
	myChart.resize();
};
</script>
</body>
</html>
